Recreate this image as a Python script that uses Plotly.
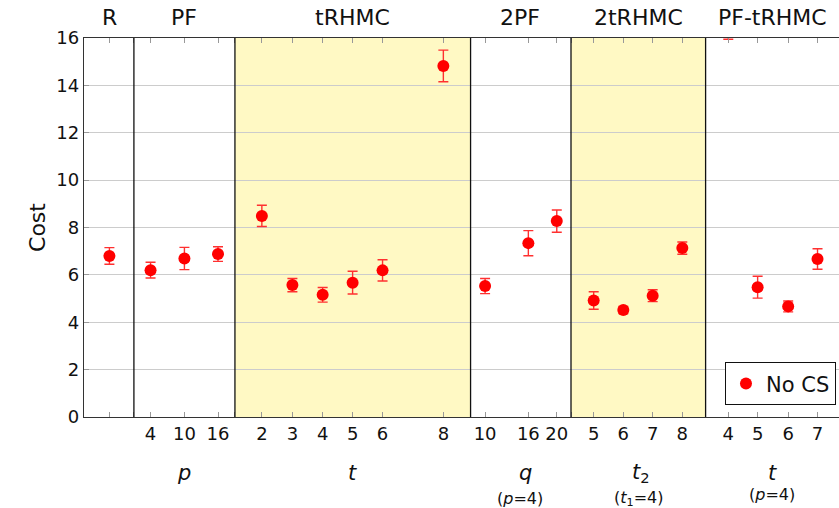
import plotly.graph_objects as go

# ---- data ----
groups = ["R", "PF", "tRHMC", "2PF", "2tRHMC", "PF-tRHMC"]
tick_labels = ["", "4", "10", "16", "2", "3", "4", "5", "6", "8",
               "10", "16", "20", "5", "6", "7", "8", "4", "5", "6", "7"]
group_of = [0, 1, 1, 1, 2, 2, 2, 2, 2, 2, 3, 3, 3, 4, 4, 4, 4, 5, 5, 5, 5]
cost = [6.80, 6.20, 6.69, 6.88, 8.49, 5.57, 5.16, 5.67, 6.19, 14.82,
        5.53, 7.34, 8.27, 4.92, 4.52, 5.12, 7.13, 17.2, 5.48, 4.67, 6.67]
cost_err = [0.35, 0.33, 0.47, 0.31, 0.45, 0.28, 0.31, 0.48, 0.45, 0.67,
            0.32, 0.53, 0.47, 0.37, 0.15, 0.25, 0.26, 1.25, 0.46, 0.23, 0.43]
group_xlabels = ["", "<i>p</i>", "<i>t</i>", "<i>q</i>", "<i>t</i><sub>2</sub>", "<i>t</i>"]
group_notes = ["", "", "", "(<i>p</i>=4)", "(<i>t</i><sub>1</sub>=4)", "(<i>p</i>=4)"]
shaded = [False, False, True, False, True, False]

# ---- layout of slots along the x axis (axis units) ----
slot_x = [0.84, 2.20, 3.32, 4.43, 5.88, 6.89, 7.89, 8.88, 9.87, 11.88,
          13.26, 14.69, 15.63, 16.85, 17.83, 18.80, 19.78, 21.30, 22.27, 23.28, 24.25]
bounds = [0.0, 1.65, 4.99, 12.78, 16.10, 20.55, 24.96]
title_x = [0.84, 3.32, 8.88, 14.40, 18.32, 22.77]
label_x = [0.84, 3.32, 8.88, 14.60, 18.40, 22.77]
note_x = [0.84, 3.32, 8.88, 14.42, 18.32, 22.75]

FONT = "DejaVu Sans"
PLOT_TOP, PLOT_BOT = 38.3, 416.7
H = PLOT_BOT - PLOT_TOP


def py(px):
    return (PLOT_BOT - px) / H


fig = go.Figure()
fig.add_trace(go.Scatter(
    x=slot_x, y=cost, mode="markers", name="No CS",
    marker=dict(color="#ff0000", size=12, line=dict(width=0)),
    error_y=dict(type="data", array=cost_err, color="#ff3030", thickness=1.4, width=5),
))
# invisible helper trace on the unlabeled tick axis
fig.add_trace(go.Scatter(x=[bounds[0]], y=[None], xaxis="x2", showlegend=False,
                         hoverinfo="skip", mode="markers"))

shapes = []
for i, g in enumerate(groups):
    if shaded[i]:
        shapes.append(dict(type="rect", xref="x", yref="paper", x0=bounds[i], x1=bounds[i + 1],
                           y0=0, y1=1, fillcolor="#fff9c4", line=dict(width=0), layer="below"))
for b in bounds[1:-1]:
    shapes.append(dict(type="line", xref="x", yref="paper", x0=b, x1=b, y0=0, y1=1,
                       line=dict(color="#111111", width=1.3), layer="above"))

ann = []
for i, g in enumerate(groups):
    ann.append(dict(text=g, x=title_x[i], xref="x", y=py(18), yref="paper", showarrow=False,
                    font=dict(family=FONT, size=22, color="#111111"), yanchor="middle"))
    if group_xlabels[i]:
        ann.append(dict(text=group_xlabels[i], x=label_x[i], xref="x", y=py(473), yref="paper",
                        showarrow=False, font=dict(family=FONT, size=21, color="#111111"),
                        yanchor="middle"))
    if group_notes[i]:
        yy = 494 if i == 5 else 498
        ann.append(dict(text=group_notes[i], x=note_x[i], xref="x", y=py(yy), yref="paper",
                        showarrow=False, font=dict(family=FONT, size=16, color="#111111"),
                        yanchor="middle"))

lab_vals = [x for x, t in zip(slot_x, tick_labels) if t]
lab_text = [t for t in tick_labels if t]
plain_vals = [x for x, t in zip(slot_x, tick_labels) if not t] + bounds[1:-1]

fig.update_layout(
    width=839, height=508,
    margin=dict(l=84, r=0, t=38, b=91),
    paper_bgcolor="white", plot_bgcolor="white",
    font=dict(family=FONT, size=18, color="#111111"),
    shapes=shapes, annotations=ann,
    showlegend=True,
    legend=dict(x=0.996, y=0.031, xanchor="right", yanchor="bottom",
                bgcolor="white", bordercolor="#111111", borderwidth=1,
                font=dict(family=FONT, size=21), itemwidth=30),
    xaxis=dict(range=[bounds[0], bounds[-1]], tickvals=lab_vals, ticktext=lab_text,
               ticks="inside", ticklen=5, tickcolor="#999999", showgrid=False,
               showline=True, linecolor="#333333", linewidth=1.3, mirror="ticks",
               zeroline=False, tickfont=dict(family=FONT, size=18)),
    xaxis2=dict(range=[bounds[0], bounds[-1]], overlaying="x", side="bottom", anchor="y",
                tickvals=plain_vals, showticklabels=False,
                ticks="inside", ticklen=5, tickcolor="#999999", showgrid=False,
                showline=False, mirror="ticks", zeroline=False),
    yaxis=dict(range=[0, 16], tickvals=list(range(0, 17, 2)), ticks="inside", ticklen=5,
               tickcolor="#999999", showgrid=True, gridcolor="#cccccc", gridwidth=1,
               showline=True, linecolor="#333333", linewidth=1.3, zeroline=False,
               title=dict(text="Cost", font=dict(family=FONT, size=22), standoff=4),
               tickfont=dict(family=FONT, size=18)),
)

fig.write_html("out.html")
